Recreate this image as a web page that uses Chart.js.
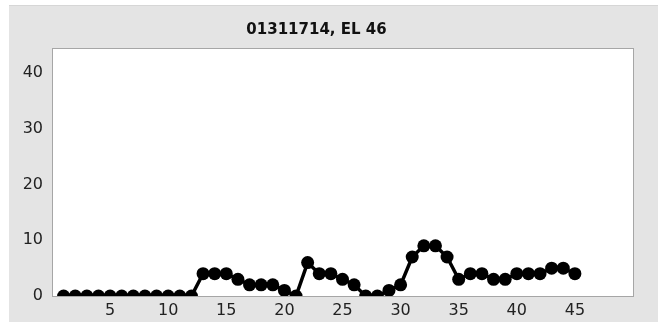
<!DOCTYPE html>
<html>
<head>
<meta charset="utf-8">
<script src="https://cdn.jsdelivr.net/npm/chart.js@4/dist/chart.umd.min.js"></script>
<style>
  body { margin: 0; background: #fff; }
  #wrap { width: 658px; height: 322px; }
</style>
</head>
<body>
<div id="wrap"><canvas id="chart" width="658" height="322"></canvas></div>
<script>
// values, one per x position 1..45
var titre = '01311714, EL 46'
var positions = []
for (var i = 1; i <= 45; i++) positions.push(i)
var valeurs = [0, 0, 0, 0, 0, 0, 0, 0, 0, 0, 0, 0,
               4, 4, 4, 3, 2, 2, 2, 1, 0, 6, 4, 4, 3, 2, 0, 0, 1, 2,
               7, 9, 9, 7, 3, 4, 4, 3, 3, 4, 4, 4, 5, 5, 4]
var ticksX = [5, 10, 15, 20, 25, 30, 35, 40, 45]
var ticksY = [0, 10, 20, 30, 40]

var points = positions.map(function (x, i) { return { x: x, y: valeurs[i] } })

// gray panel behind everything, white plot box with a gray frame
var fond = {
    id: 'fond',
    beforeDraw: function (chart) {
        var ctx = chart.ctx
        var a = chart.chartArea
        ctx.save()
        ctx.fillStyle = '#ffffff'
        ctx.fillRect(0, 0, chart.width, chart.height)
        ctx.fillStyle = '#e4e4e4'
        ctx.fillRect(9, 5, chart.width - 9, chart.height - 5)
        ctx.fillStyle = '#d6d6d6'
        ctx.fillRect(9, 5, chart.width - 9, 1)
        ctx.fillStyle = '#ffffff'
        ctx.fillRect(a.left, a.top, a.right - a.left, a.bottom - a.top)
        ctx.strokeStyle = '#a6a6a6'
        ctx.lineWidth = 1
        ctx.strokeRect(a.left + 0.5, a.top + 0.5, a.right - a.left, a.bottom - a.top)
        ctx.restore()
    }
}

new Chart(document.getElementById('chart'), {
    type: 'line',
    data: {
        datasets: [{
            data: points,
            borderColor: '#000000',
            backgroundColor: '#000000',
            borderWidth: 3.5,
            pointRadius: 6.5,
            pointHoverRadius: 6.5,
            pointBackgroundColor: '#000000',
            pointBorderWidth: 0,
            tension: 0,
            clip: { left: 0, top: 0, right: 0, bottom: 0 }
        }]
    },
    options: {
        responsive: false,
        animation: false,
        events: [],
        layout: { padding: { left: 0, right: 25, top: 0, bottom: 0 } },
        plugins: {
            legend: { display: false },
            tooltip: { enabled: false },
            title: {
                display: true,
                text: titre,
                color: '#111111',
                font: { family: 'DejaVu Sans', size: 15, weight: 'bold', lineHeight: 1.2 },
                padding: { top: 21, bottom: 9 }
            }
        },
        scales: {
            x: {
                type: 'linear',
                min: 0,
                max: 50,
                afterFit: function (s) { s.height = 26 },
                afterBuildTicks: function (s) { s.ticks = ticksX.map(function (v) { return { value: v } }) },
                grid: { display: false, drawTicks: true, tickLength: 4, tickColor: '#a6a6a6' },
                border: { color: '#a6a6a6' },
                ticks: {
                    color: '#222222',
                    padding: 1,
                    maxRotation: 0,
                    font: { family: 'DejaVu Sans', size: 16 }
                }
            },
            y: {
                min: 0,
                max: 44.5,
                afterFit: function (s) { s.width = 52 },
                afterBuildTicks: function (s) { s.ticks = ticksY.map(function (v) { return { value: v } }) },
                grid: { display: false, drawTicks: true, tickLength: 5, tickColor: '#a6a6a6' },
                border: { color: '#a6a6a6' },
                ticks: {
                    color: '#222222',
                    padding: 4,
                    font: { family: 'DejaVu Sans', size: 16 }
                }
            }
        }
    },
    plugins: [fond]
})
</script>
</body>
</html>
